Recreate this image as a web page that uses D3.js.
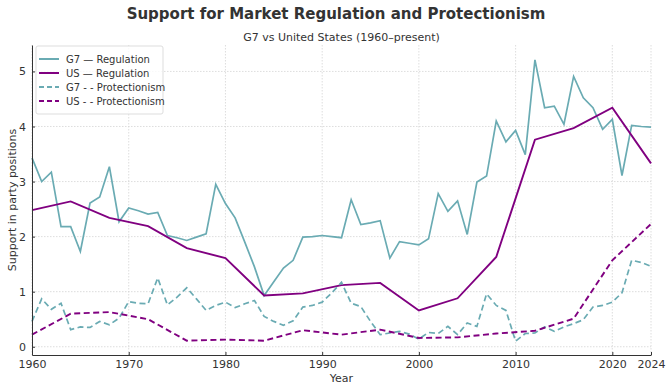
<!DOCTYPE html>
<html>
<head>
<meta charset="utf-8">
<script src="https://cdn.jsdelivr.net/npm/d3@7"></script>
<style>
  body { margin: 0; background: #fff; }
  text { font-family: "DejaVu Sans", sans-serif; }
</style>
</head>
<body>
<script>
var w = 672;
var h = 392;

// yearly G7 series, 1960-2024
var g7Years = d3.range(1960, 2025);
var g7Regulation = [
  3.43, 3.0, 3.17, 2.18, 2.18, 1.73, 2.61, 2.72, 3.27, 2.27,
  2.52, 2.47, 2.41, 2.44, 2.02, 1.98, 1.93, 1.99, 2.05, 2.95,
  2.6, 2.34, 1.9, 1.45, 0.93, 1.18, 1.43, 1.57, 1.99, 2.0,
  2.02, 2.0, 1.98, 2.67, 2.22, 2.25, 2.29, 1.61, 1.91, 1.88,
  1.85, 1.96, 2.78, 2.46, 2.65, 2.04, 2.99, 3.1, 4.1, 3.72,
  3.93, 3.49, 5.21, 4.34, 4.37, 4.04, 4.91, 4.52, 4.34, 3.95,
  4.13, 3.11, 4.02, 4.0, 3.99
];
var g7Protectionism = [
  0.46, 0.87, 0.68, 0.79, 0.31, 0.36, 0.35, 0.46, 0.4, 0.52,
  0.82, 0.79, 0.78, 1.25, 0.76, 0.9, 1.07, 0.87, 0.66, 0.75,
  0.81, 0.71, 0.78, 0.84, 0.55, 0.46, 0.39, 0.47, 0.72, 0.75,
  0.81, 0.98, 1.17, 0.79, 0.73, 0.46, 0.22, 0.25, 0.28, 0.23,
  0.14, 0.26, 0.24, 0.37, 0.22, 0.43, 0.37, 0.96, 0.75, 0.66,
  0.1, 0.24, 0.25, 0.36, 0.28, 0.36, 0.42, 0.49, 0.72, 0.75,
  0.81, 0.98, 1.57, 1.53, 1.46
];

// US election years
var usYears = d3.range(1960, 2025, 4);
var usRegulation = [2.48, 2.64, 2.34, 2.19, 1.79, 1.61, 0.93, 0.97, 1.12, 1.16, 0.66, 0.88, 1.63, 3.76, 3.97, 4.34, 3.33];
var usProtectionism = [0.22, 0.6, 0.63, 0.5, 0.11, 0.13, 0.11, 0.3, 0.22, 0.31, 0.16, 0.17, 0.24, 0.29, 0.51, 1.57, 2.23];

var xTicks = [1960, 1970, 1980, 1990, 2000, 2010, 2020, 2024];
var yTicks = [0, 1, 2, 3, 4, 5];

var teal = "#6aabb3";
var purple = "#800080";

var series = [
  { name: "G7 \u2014 Regulation", years: g7Years, values: g7Regulation, color: teal, dash: null },
  { name: "US \u2014 Regulation", years: usYears, values: usRegulation, color: purple, dash: null },
  { name: "G7 - - Protectionism", years: g7Years, values: g7Protectionism, color: teal, dash: "6,3.5" },
  { name: "US - - Protectionism", years: usYears, values: usProtectionism, color: purple, dash: "6,3.5" }
];

var margin = { top: 45, right: 21, bottom: 37, left: 32 };

var svg = d3.select("body")
  .append("svg")
  .attr("width", w)
  .attr("height", h);

var x = d3.scaleLinear().domain([1960, 2024]).range([margin.left, w - margin.right]);
var y = d3.scaleLinear().domain([-0.15, 5.48]).range([h - margin.bottom, margin.top]);

// grid
svg.append("g").selectAll("line")
  .data(xTicks)
  .enter().append("line")
  .attr("x1", d => x(d)).attr("x2", d => x(d))
  .attr("y1", margin.top).attr("y2", h - margin.bottom)
  .attr("stroke", "#d4d4d4").attr("stroke-width", 0.8)
  .attr("stroke-dasharray", "1.5,1.5");

svg.append("g").selectAll("line")
  .data(yTicks)
  .enter().append("line")
  .attr("x1", margin.left).attr("x2", w - margin.right)
  .attr("y1", d => y(d)).attr("y2", d => y(d))
  .attr("stroke", "#d4d4d4").attr("stroke-width", 0.8)
  .attr("stroke-dasharray", "1.5,1.5");

// lines
var line = d3.line()
  .x(d => x(d[0]))
  .y(d => y(d[1]));

for (let s of series) {
  svg.append("path")
    .datum(d3.zip(s.years, s.values))
    .attr("d", line)
    .attr("fill", "none")
    .attr("stroke", s.color)
    .attr("stroke-width", s.color == purple ? 1.9 : 1.7)
    .attr("stroke-dasharray", s.dash);
}

// axes
var xAxis = svg.append("g")
  .attr("transform", "translate(0," + (h - margin.bottom) + ")")
  .call(d3.axisBottom(x).tickValues(xTicks).tickFormat(d3.format("d")).tickSizeInner(-3).tickSizeOuter(0).tickPadding(5));

var yAxis = svg.append("g")
  .attr("transform", "translate(" + margin.left + ",0)")
  .call(d3.axisLeft(y).tickValues(yTicks).tickFormat(d3.format("d")).tickSizeInner(-3).tickSizeOuter(0).tickPadding(5));

for (let a of [xAxis, yAxis]) {
  a.select(".domain").attr("stroke", "#333").attr("stroke-width", 1);
  a.selectAll(".tick line").attr("stroke", "#333");
  a.selectAll("text").attr("font-size", 11).attr("fill", "#333").attr("font-family", "DejaVu Sans");
}
yAxis.selectAll(".tick text").attr("x", -6).attr("text-anchor", "end");

// titles
svg.append("text")
  .attr("x", 336).attr("y", 19)
  .attr("text-anchor", "middle")
  .attr("font-size", 15).attr("font-weight", "bold").attr("fill", "#333")
  .text("Support for Market Regulation and Protectionism");

svg.append("text")
  .attr("x", (margin.left + w - margin.right) / 2).attr("y", 41)
  .attr("text-anchor", "middle")
  .attr("font-size", 11).attr("fill", "#333")
  .text("G7 vs United States (1960\u2013present)");

svg.append("text")
  .attr("x", (margin.left + w - margin.right) / 2).attr("y", 382)
  .attr("text-anchor", "middle")
  .attr("font-size", 11).attr("fill", "#333")
  .text("Year");

svg.append("text")
  .attr("transform", "translate(16," + ((margin.top + h - margin.bottom) / 2) + ") rotate(-90)")
  .attr("text-anchor", "middle")
  .attr("font-size", 11).attr("fill", "#333")
  .text("Support in party positions");

// legend
var legend = svg.append("g").attr("transform", "translate(36,46)");
legend.append("rect")
  .attr("width", 127).attr("height", 68)
  .attr("rx", 2)
  .attr("fill", "#fff").attr("fill-opacity", 0.8)
  .attr("stroke", "#ddd");

var items = legend.selectAll("g.item")
  .data(series)
  .enter().append("g")
  .attr("class", "item")
  .attr("transform", (d, i) => "translate(0," + (13 + i * 14) + ")");

items.append("line")
  .attr("x1", 3).attr("x2", 23)
  .attr("stroke", d => d.color)
  .attr("stroke-width", 2)
  .attr("stroke-dasharray", d => d.dash ? "5,3" : null);

items.append("text")
  .attr("x", 30).attr("y", 3.5)
  .attr("font-size", 10).attr("fill", "#333")
  .text(d => d.name);
</script>
</body>
</html>
